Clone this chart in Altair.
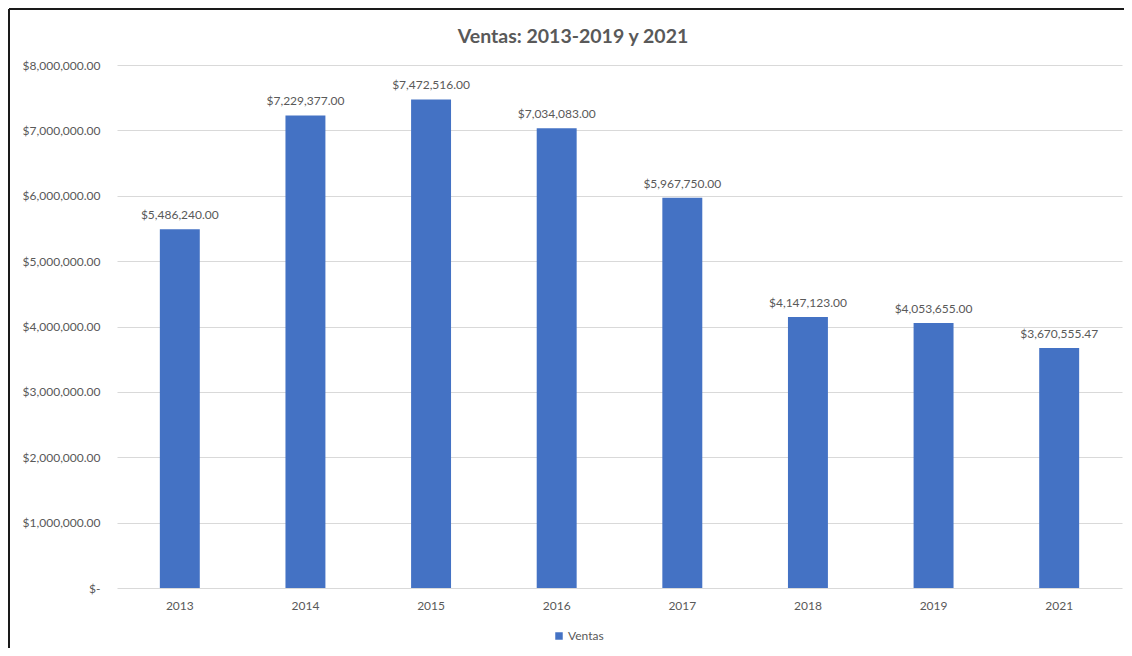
import altair as alt
import pandas as pd

title_text = ["Ventas: 2013-2019 y 2021"]
years = ["2013", "2014", "2015", "2016", "2017", "2018", "2019", "2021"]
ventas = [5486240.00, 7229377.00, 7472516.00, 7034083.00, 5967750.00,
          4147123.00, 4053655.00, 3670555.47]
series = ["Ventas"] * len(years)
y_ticks = [0, 1000000, 2000000, 3000000, 4000000, 5000000, 6000000, 7000000, 8000000]

FONT = "Lato"
GRAY = "#595959"
BLUE = "#4472C4"

df = pd.DataFrame({"year": years, "ventas": ventas, "serie": series})
df["label"] = df["ventas"].map(lambda v: "${:,.2f}".format(v))

x_enc = alt.X(
    "year:N", sort=years,
    scale=alt.Scale(paddingInner=0.682, paddingOuter=0.341),
    axis=alt.Axis(title=None, labelAngle=0, domain=False, ticks=False, tickSize=0,
                  labelPadding=12, labelFontSize=12, labelColor=GRAY, labelFont=FONT,
                  grid=False),
)
y_enc = alt.Y(
    "ventas:Q",
    scale=alt.Scale(domain=[0, 8000000], nice=False),
    axis=alt.Axis(title=None, values=y_ticks, domain=False, ticks=False, tickSize=0,
                  labelPadding=17, labelFontSize=12, labelColor=GRAY, labelFont=FONT,
                  labelExpr="datum.value == 0 ? '$-' : '$' + format(datum.value, ',.2f')",
                  grid=True, gridColor="#D9D9D9", gridWidth=1),
)

base = alt.Chart(df)

bars = base.mark_bar().encode(
    x=x_enc, y=y_enc,
    color=alt.Color("serie:N", scale=alt.Scale(range=[BLUE]),
                    legend=alt.Legend(title=None, orient="none", legendX=436, legendY=565,
                                      symbolType="square", symbolSize=56,
                                      symbolStrokeWidth=0, labelFontSize=12,
                                      labelColor=GRAY, labelFont=FONT, labelOffset=3)),
)

labels = base.mark_text(baseline="alphabetic", dy=-10, fontSize=12, color=GRAY,
                        font=FONT).encode(x=x_enc, y=y_enc, text="label:N")

title_df = pd.DataFrame({"t": title_text})
title = alt.Chart(title_df).mark_text(
    baseline="alphabetic", align="center", fontSize=19.5, font=FONT,
    fontWeight="bold", color=GRAY,
).encode(x=alt.value(456), y=alt.value(-22), text="t:N")

frame_df = pd.DataFrame({"a": [0]})
left_border = alt.Chart(frame_df).mark_rule(color="#1a1a1a", strokeWidth=2).encode(
    x=alt.value(-108), y=alt.value(-56), y2=alt.value(590))
top_border = alt.Chart(frame_df).mark_rule(color="#1a1a1a", strokeWidth=2).encode(
    x=alt.value(-108), x2=alt.value(1010), y=alt.value(-56))

chart = alt.layer(bars, labels, title, left_border, top_border).properties(
    width=1005, height=523,
    autosize=alt.AutoSizeParams(type="none"),
    padding={"left": 109, "top": 57, "right": 2, "bottom": 60},
    background="white",
).configure_view(stroke=None)

chart.save("out.html", embed_options={"renderer": "svg", "actions": False})
